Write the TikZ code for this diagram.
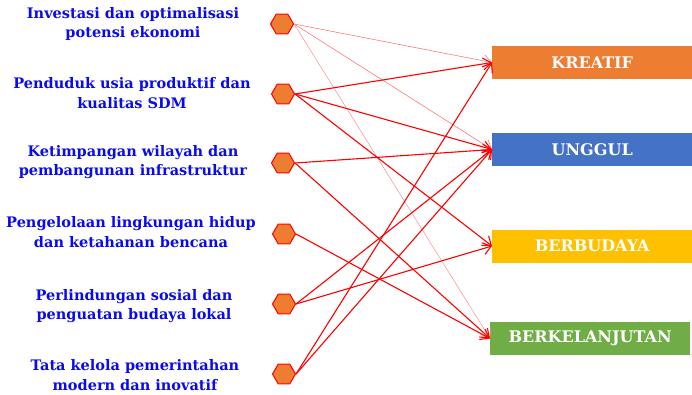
\documentclass[tikz,border=0pt]{standalone}
\usepackage{fontspec}
\setmainfont{DejaVu Serif}
\usetikzlibrary{shapes.geometric,arrows.meta}

\definecolor{biru}{HTML}{0A0AF0}
\definecolor{oranye}{HTML}{ED7D31}
\definecolor{birukotak}{HTML}{4472C4}
\definecolor{emas}{HTML}{FFC000}
\definecolor{hijau}{HTML}{70AD47}

\begin{document}
\begin{tikzpicture}[x=1pt,y=-1pt,
    faktor/.style={text=biru, align=center, font=\bfseries\fontsize{14.5}{19.5}\selectfont},
    simpul/.style={regular polygon, regular polygon sides=6,
        minimum size=23pt, inner sep=0pt, draw=red, fill=oranye, line width=1pt},
    kotak/.style={anchor=west, minimum width=200pt, minimum height=33pt, inner sep=0pt,
        text=white, font=\bfseries\fontsize{16}{18}\selectfont},
    panah/.style={draw=red, line width=1.1pt, -{Straight Barb[length=8pt,width=12pt]}},
    panahtipis/.style={panah, line width=0.5pt, draw=red!60}]
    \useasboundingbox (0,0) rectangle (692,395);

    % -----------------------------------------------------
    % 1) Faktor di sebelah kiri (teks + segi enam)
    % -----------------------------------------------------
    \node[faktor] (t1) at (133,24) {Investasi dan optimalisasi\\potensi ekonomi};
    \node[faktor] (t2) at (132,93) {Penduduk usia produktif dan\\kualitas SDM};
    \node[faktor] (t3) at (133,162) {Ketimpangan wilayah dan\\pembangunan infrastruktur};
    \node[faktor] (t4) at (131,232) {Pengelolaan lingkungan hidup\\dan ketahanan bencana};
    \node[faktor] (t5) at (134,306) {Perlindungan sosial dan\\penguatan budaya lokal};
    \node[faktor] (t6) at (135,375) {Tata kelola pemerintahan\\modern dan inovatif};

    \node[simpul] (h1) at (282,24) {};
    \node[simpul] (h2) at (283,94) {};
    \node[simpul] (h3) at (283,163) {};
    \node[simpul] (h4) at (284,234) {};
    \node[simpul] (h5) at (284,304) {};
    \node[simpul] (h6) at (284,374) {};

    % -----------------------------------------------------
    % 2) Tujuan di sebelah kanan
    % -----------------------------------------------------
    \node[kotak, fill=oranye] (kreatif) at (492,62.5) {KREATIF};
    \node[kotak, fill=birukotak] (unggul) at (492,149.5) {UNGGUL};
    \node[kotak, fill=emas] (budaya) at (492,246) {BERBUDAYA};
    \node[kotak, fill=hijau] (lanjut) at (490,338.5) {BERKELANJUTAN};

    % -----------------------------------------------------
    % 3) Panah penghubung
    % -----------------------------------------------------
    \draw[panahtipis] (h1.east) -- (kreatif.west);
    \draw[panahtipis] (h1.east) -- (unggul.west);
    \draw[panahtipis, draw=red!45] (h1.east) -- (lanjut.west);

    \draw[panah] (h2.east) -- (kreatif.west);
    \draw[panah] (h2.east) -- (unggul.west);
    \draw[panah] (h2.east) -- (budaya.west);

    \draw[panah] (h3.east) -- (unggul.west);
    \draw[panah] (h3.east) -- (lanjut.west);

    \draw[panah] (h4.east) -- (lanjut.west);

    \draw[panah] (h5.east) -- (unggul.west);
    \draw[panah] (h5.east) -- (budaya.west);

    \draw[panah] (h6.east) -- (kreatif.west);
    \draw[panah] (h6.east) -- (unggul.west);

\end{tikzpicture}
\end{document}
